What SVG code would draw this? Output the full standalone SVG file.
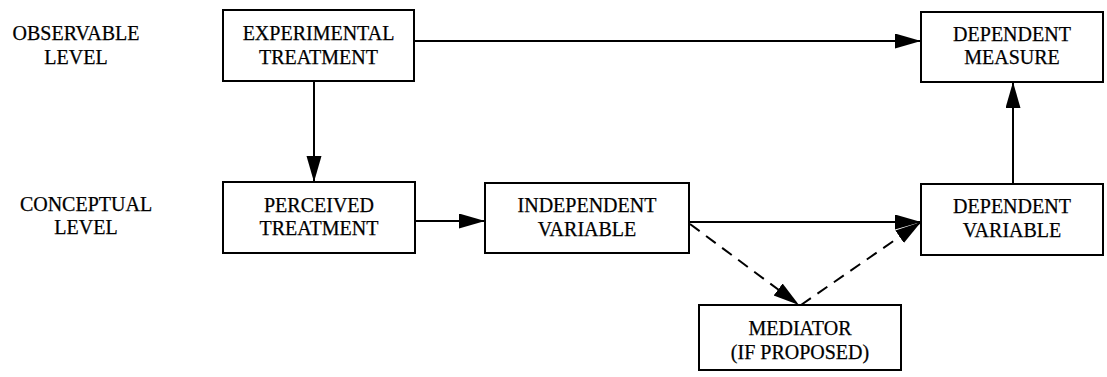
<svg xmlns="http://www.w3.org/2000/svg" width="1107" height="377" viewBox="0 0 1107 377">
<style>
.box{fill:#fff;stroke:#000;stroke-width:2}
.t{font-family:'Liberation Serif','Times New Roman',serif;font-size:20px;fill:#000;stroke:#000;stroke-width:0.25;text-anchor:middle}
.c{fill:none;stroke:#000;stroke-width:2}
.d{fill:none;stroke:#000;stroke-width:2;stroke-dasharray:12 8}
</style>
<defs>
<marker id="ah" markerUnits="userSpaceOnUse" markerWidth="28" markerHeight="16" refX="26" refY="7.5" orient="auto">
<path d="M0,0 L26,7.5 L0,15 z" fill="#000"/>
</marker>
</defs>
<g id="labels">
<text class="t" x="76" y="40">OBSERVABLE</text>
<text class="t" x="76" y="64">LEVEL</text>
<text class="t" x="86" y="211">CONCEPTUAL</text>
<text class="t" x="86" y="234">LEVEL</text>
</g>
<g id="connectors">
<path class="c" d="M414,41 L921,41" marker-end="url(#ah)"/>
<path class="c" d="M314,81 L314,182" marker-end="url(#ah)"/>
<path class="c" d="M415,221 L485,221" marker-end="url(#ah)"/>
<path class="c" d="M689,222 L921,222" marker-end="url(#ah)"/>
<path class="c" d="M1013,184 L1013,82" marker-end="url(#ah)"/>
<path class="d" d="M690,224 L799,305" marker-end="url(#ah)"/>
<path class="d" d="M801,305 L921,222" marker-end="url(#ah)"/>
</g>
<g id="experimental-treatment">
<rect class="box" x="223" y="10" width="191" height="71"/>
<text class="t" x="318.5" y="40">EXPERIMENTAL</text>
<text class="t" x="318.5" y="64">TREATMENT</text>
</g>
<g id="dependent-measure">
<rect class="box" x="921" y="12" width="182" height="70"/>
<text class="t" x="1012" y="41">DEPENDENT</text>
<text class="t" x="1012" y="64">MEASURE</text>
</g>
<g id="perceived-treatment">
<rect class="box" x="223" y="182" width="192" height="71"/>
<text class="t" x="319" y="212">PERCEIVED</text>
<text class="t" x="319" y="235">TREATMENT</text>
</g>
<g id="independent-variable">
<rect class="box" x="485" y="183" width="204" height="70"/>
<text class="t" x="587" y="212">INDEPENDENT</text>
<text class="t" x="587" y="236">VARIABLE</text>
</g>
<g id="dependent-variable">
<rect class="box" x="921" y="184" width="182" height="71"/>
<text class="t" x="1012" y="213">DEPENDENT</text>
<text class="t" x="1012" y="237">VARIABLE</text>
</g>
<g id="mediator">
<rect class="box" x="699" y="305" width="202" height="65"/>
<text class="t" x="800" y="335">MEDIATOR</text>
<text class="t" x="800" y="359">(IF PROPOSED)</text>
</g>
</svg>
